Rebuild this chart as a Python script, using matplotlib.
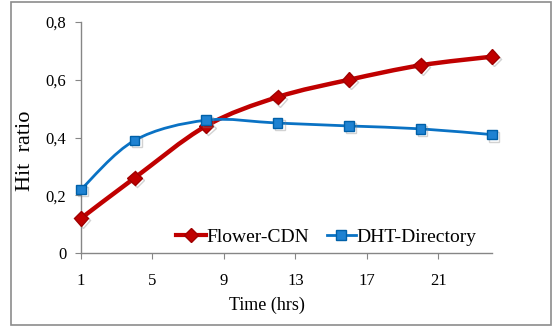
import numpy as np
import matplotlib
matplotlib.use('Agg')
import matplotlib.pyplot as plt
from matplotlib.path import Path
from matplotlib.patches import PathPatch, Rectangle
import matplotlib.patheffects as pe

# data
hours = [1, 4, 8, 12, 16, 20, 24]
flower_cdn = [0.12, 0.26, 0.44, 0.54, 0.60, 0.65, 0.68]
dht_directory = [0.22, 0.39, 0.46, 0.45, 0.44, 0.43, 0.41]
x_ticks = [1, 5, 9, 13, 17, 21]
y_ticks = [0, 0.2, 0.4, 0.6, 0.8]
y_tick_labels = ['0', '0,2', '0,4', '0,6', '0,8']


def smooth_path(x, y):
    # excel-like smoothed line: cubic bezier through the points
    x = np.asarray(x, float)
    y = np.asarray(y, float)
    verts = [(x[0], y[0])]
    codes = [Path.MOVETO]
    n = len(x)
    for i in range(n - 1):
        i0 = max(i - 1, 0)
        i3 = min(i + 2, n - 1)
        c1 = (x[i] + (x[i + 1] - x[i0]) / 6, y[i] + (y[i + 1] - y[i0]) / 6)
        c2 = (x[i + 1] - (x[i3] - x[i]) / 6, y[i + 1] - (y[i3] - y[i]) / 6)
        verts += [c1, c2, (x[i + 1], y[i + 1])]
        codes += [Path.CURVE4] * 3
    return Path(verts, codes)


plt.rcParams['font.family'] = ['Liberation Serif', 'DejaVu Serif']

fig = plt.figure(figsize=(5.57, 3.27), dpi=100)
ax = fig.add_axes([0.1454, 0.2263, 0.7379, 0.7064])

# outer frame
fig.patches.append(Rectangle((0.019, 0.005), 0.970, 0.99, transform=fig.transFigure,
                             fill=False, edgecolor='#8c8c8c', linewidth=1.2))

shadow = [pe.SimpleLineShadow(offset=(1.5, -1.5), shadow_color='#808080', alpha=0.35), pe.Normal()]

red = '#C00000'
blue = '#0A72C4'

ax.add_patch(PathPatch(smooth_path(hours, flower_cdn), fill=False, edgecolor=red,
                       linewidth=3.2, capstyle='round', zorder=3, clip_on=False))
ax.add_patch(PathPatch(smooth_path(hours, dht_directory), fill=False, edgecolor=blue,
                       linewidth=2, capstyle='round', zorder=3, clip_on=False))

ax.plot(hours, flower_cdn, linestyle='none', marker='D', markersize=7.5,
        markerfacecolor=red, markeredgecolor='#a00000', zorder=4, path_effects=shadow,
        clip_on=False)
ax.plot(hours, dht_directory, linestyle='none', marker='s', markersize=7,
        markerfacecolor='#1E82D2', markeredgecolor='#0060A8', zorder=4, path_effects=shadow,
        clip_on=False)

# legend handles
h1, = ax.plot([], [], color=red, linewidth=3, marker='D', markersize=7.5,
              markerfacecolor=red, markeredgecolor='#a00000', label='Flower-CDN')
h2, = ax.plot([], [], color=blue, linewidth=2, marker='s', markersize=7,
              markerfacecolor='#1E82D2', markeredgecolor='#0060A8', label='DHT-Directory')
ax.legend(handles=[h1, h2], ncol=2, frameon=False, fontsize=14, loc='center left',
          bbox_to_anchor=(0.232, 0.068), borderaxespad=0, borderpad=0,
          handlelength=1.5, handletextpad=0.05, columnspacing=0.9)

ax.set_xlim(1, 24)
ax.set_ylim(0, 0.8)
ax.set_xticks(x_ticks)
ax.set_yticks(y_ticks)
ax.set_yticklabels(y_tick_labels)

for s in ['top', 'right']:
    ax.spines[s].set_visible(False)
for s in ['left', 'bottom']:
    ax.spines[s].set_color('#868686')
    ax.spines[s].set_linewidth(1)
ax.tick_params(axis='both', direction='out', length=4.5, color='#868686', labelsize=12)
ax.tick_params(axis='x', pad=10)
ax.tick_params(axis='y', pad=6)

fig.text(0.480, 0.067, 'Time (hrs)', fontsize=13, ha='center', va='center')
fig.text(0.045, 0.54, 'Hit  ratio', fontsize=16, ha='center', va='center', rotation=90)

fig.savefig('out.png', dpi=100)
